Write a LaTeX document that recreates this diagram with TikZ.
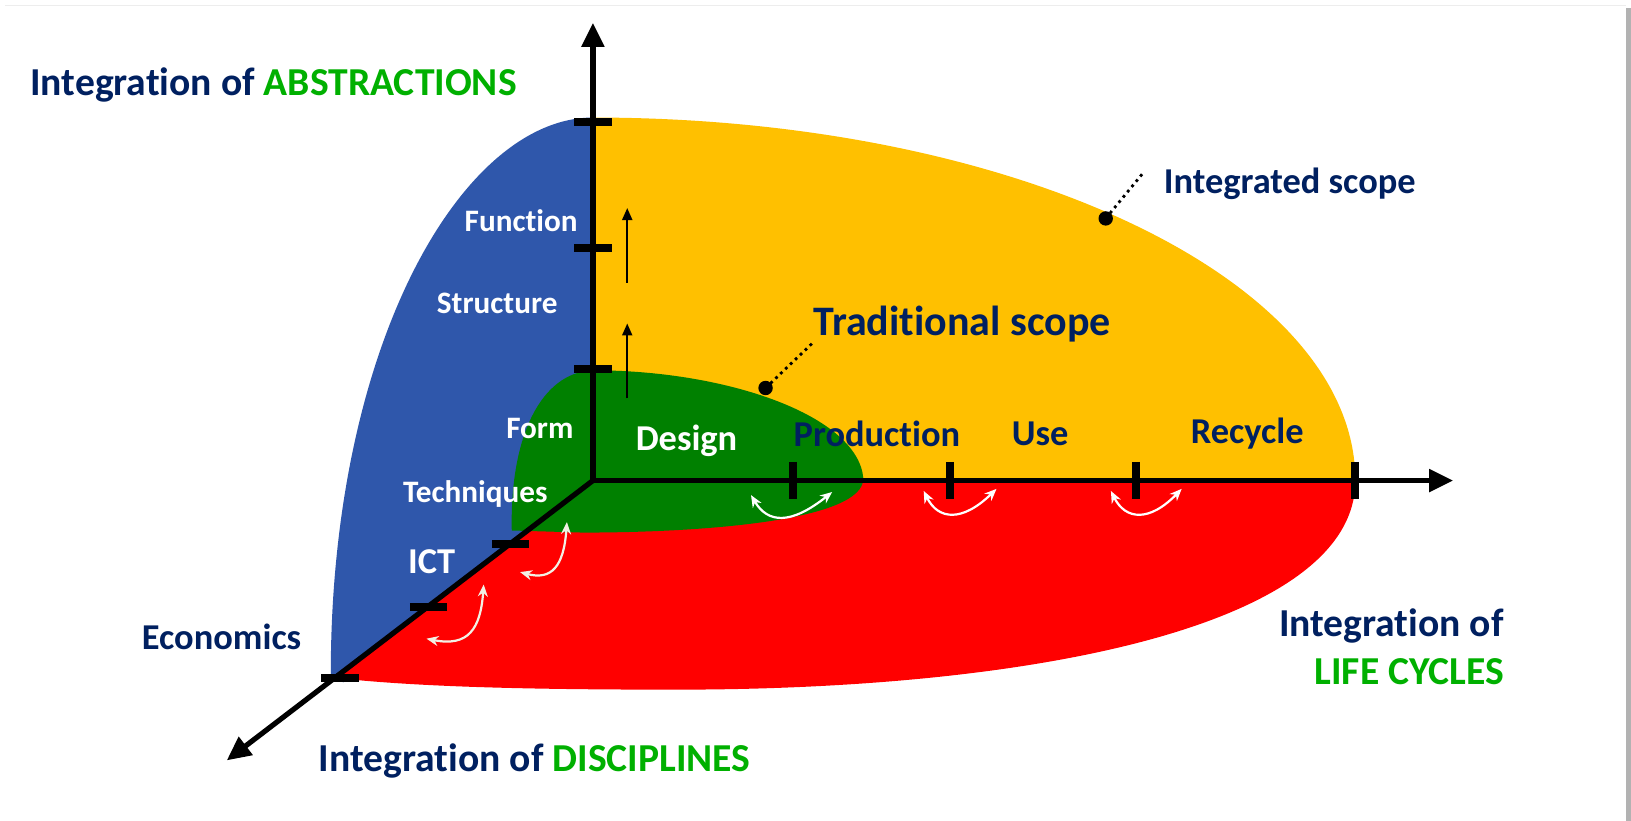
\documentclass[tikz,border=0pt]{standalone}
\usepackage{fontspec}
\setmainfont{Carlito}[Ligatures=NoCommon]
\usetikzlibrary{arrows.meta}

\definecolor{navy}{RGB}{0,32,96}
\definecolor{brightgreen}{RGB}{0,176,0}
\definecolor{absblue}{RGB}{47,87,171}
\definecolor{scopeyellow}{RGB}{255,192,0}
\definecolor{tradgreen}{RGB}{0,128,0}
\definecolor{cream}{RGB}{242,240,228}

\tikzset{
  axis/.style={line width=2.6pt,line join=miter},
  tick/.style={line width=4pt},
  upmark/.style={line width=1pt,-{Triangle[length=6pt,width=5pt]}},
  swap/.style={line width=1.1pt,white,{Stealth[length=6pt,width=5pt]}-{Stealth[length=6pt,width=5pt]}},
  leader/.style={dotted,line width=1.4pt},
  whitelbl/.style={text=white,inner sep=0pt,font=\bfseries\fontsize{15.6}{18}\selectfont},
  stagelbl/.style={inner sep=0pt,font=\bfseries\fontsize{18.2}{22}\selectfont},
  navylbl/.style={text=navy,inner sep=0pt,font=\bfseries\fontsize{19.8}{24}\selectfont}
}

\begin{document}
\begin{tikzpicture}[x=0.52pt,y=-0.52pt]
  \useasboundingbox (0,0) rectangle (1568,789);
  \fill[white] (0,0) rectangle (1568,789);
  \draw[black!7] (5,5) -- (1563,5);
  \fill[black!30] (1563,8) rectangle (1568,789);

  % the scopes
  \fill[absblue] (570,113) .. controls (445,113) and (318,330) .. (318,648) -- (330,656) -- (570,462) -- cycle;
  \fill[scopeyellow] (570,113) .. controls (975,113) and (1303,269) .. (1303,462) -- (570,462) -- cycle;
  \fill[red] (570,462) -- (1303,462) .. controls (1303,600) and (1000,663) .. (650,663)
    .. controls (500,663) and (400,660) .. (325,652) -- cycle;
  \fill[tradgreen] (492,510) .. controls (490,420) and (520,358) .. (570,356)
    .. controls (700,356) and (825,400) .. (830,460) .. controls (830,500) and (680,512) .. (560,512) -- cycle;

  % axes
  \coordinate (O) at (570,462);
  \coordinate (abs) at (570,22);
  \coordinate (life) at (1397,462);
  \coordinate (disc) at (218,731);
  \draw[axis,{Triangle[length=12pt,width=11pt]}-{Triangle[length=12pt,width=11pt]}] (life) -- (O) -- (abs);
  \draw[axis,-{Triangle[length=12pt,width=11pt]}] (O) -- (disc);
  \foreach \y in {117,238,355} \draw[tick] (552,\y) -- (588,\y);
  \foreach \x in {762,913,1092,1303} \draw[tick] (\x,444) -- (\x,480);
  \foreach \x/\y in {491/523,412/584,327/652} \draw[tick] (\x-18,\y) -- (\x+18,\y);

  \draw[upmark] (603,272) -- (603,200);
  \draw[upmark] (603,383) -- (603,311);

  \draw[swap] (722,476) .. controls (738,503) and (760,505) .. (800,473);
  \draw[swap] (888,472) .. controls (902,500) and (925,502) .. (958,470);
  \draw[swap] (1068,472) .. controls (1082,500) and (1105,502) .. (1136,470);
  \draw[swap,cream] (545,502) .. controls (542,545) and (530,558) .. (500,550);
  \draw[swap,cream] (465,562) .. controls (462,605) and (450,622) .. (410,614);

  % labels
  \node[navylbl] (abstitle) at (263,82) {Integration of \textcolor{brightgreen}{ABSTRACTIONS}};
  \node[navylbl] (disctitle) at (514,732) {Integration of \textcolor{brightgreen}{DISCIPLINES}};
  \node[navylbl,align=right,anchor=east] (lifetitle) at (1446,622) {Integration of\\\textcolor{brightgreen}{LIFE CYCLES}};

  \node[whitelbl] (function) at (501,212) {Function};
  \node[whitelbl] (structure) at (478,292) {Structure};
  \node[whitelbl] (form) at (519,412) {Form};
  \node[whitelbl] (techniques) at (457,475) {Techniques};
  \node[stagelbl,text=white] (ict) at (415,540) {ICT};
  \node[stagelbl,text=navy] (economics) at (213,612) {Economics};

  \node[stagelbl,text=white] (design) at (660,424) {Design};
  \node[stagelbl,text=navy] (production) at (843,417) {Production};
  \node[stagelbl,text=navy] (use) at (1000,417) {Use};
  \node[stagelbl,text=navy] (recycle) at (1199,417) {Recycle};

  \node[navylbl,font=\bfseries\fontsize{21}{25}\selectfont] (tradlbl) at (925,312) {Traditional scope};
  \node[stagelbl,text=navy] (intlbl) at (1240,177) {Integrated scope};

  \coordinate (traddot) at (736,373);
  \coordinate (tradend) at (783,328);
  \coordinate (intdot) at (1063,210);
  \coordinate (intend) at (1100,165);
  \draw[leader] (traddot) -- (tradend);
  \draw[leader] (intdot) -- (intend);
  \fill (traddot) circle (3.6pt);
  \fill (intdot) circle (3.6pt);
\end{tikzpicture}
\end{document}
